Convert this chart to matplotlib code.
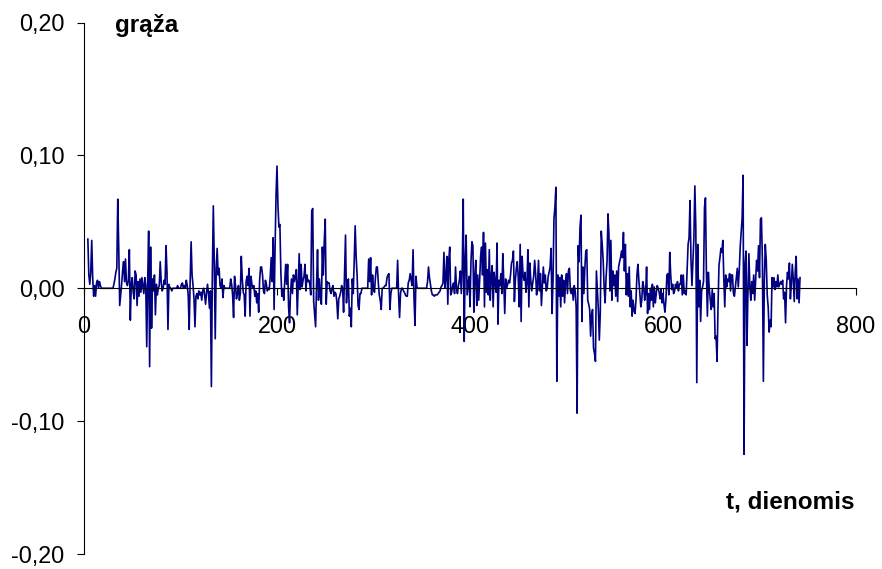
import numpy as np
import matplotlib.pyplot as plt
from matplotlib.ticker import FuncFormatter

plt.rcParams['font.family'] = ['Liberation Sans', 'DejaVu Sans']

# daily return (grąža) in thousandths
ret_a = [37, 10, 3, 12, 36, 8, -6, 2, -6, 4,
         6, 0, 5, 2, 0, 0, 0, 0, 0, 0,
         0, 0, 0, 0, 0, 0, 0, 3, 7,
         12, 15, 67, 30, -13, -5, 3, 13, 20, 5,
         22, 4, 2, 6, 29, -24, 3, 8, -3, -8,
         13, 10, -13, 5, -6, 7, -3, 8, 2, -4,
         8, 2, -44, 5, 43, -59, 31, -30, 7, -2,
         10, -20, 3, -5, 0, 2, 20, 5, -2, 0,
         6, 3, 32, 12, -31, 3, 0, 0, -2, 0,
         0, 0, 0, 0, 2, 0, 0, 0, 3, 4,
         0, 2, 0, 6, 2, -5, -31, 5, 35, 10,
         2, -8]

ret_b = [-29, -6, -4, -8, -2, -5, -3, -9, -2, 0,
         -5, -12, -3, 3, -4, -15, -2, -74, 10, 62,
         20, -38, 15, 30, 10, 15, 2, 0, 7, -7,
         2, 0, 0, 0, 0, 0, 0, 7, 3,
         -5, -22, 9, 2, -8, -4, 2, -9, -4, 24,
         7, -3, -5, -21, 5, 9, 2, 15, -21, 9,
         3, 0, 2, -6, -2, -11, -4, -18, 6, 16,
         16, 10, -2, -4, 6, 3, -2, 0, -1, 9,
         23, 5, 38, -16, 30, 70, 92, 62, 46, 48,
         12, -6, -1, -9, 4, 18, 3, 18, -14, -26,
         -3, 7, -4, 10, 5, 9, 14, -20, 3, 26,
         -1, 18, 1, 6, 9, 18, -2, 10, 5, 6,
         3, -5, 58, 60]

ret_c = [-10, -20, -29, 3, 29, -9, 7, -5, -12, 31,
         10, 36, 52, -12, 5, 4, 4, -2, -4, 0,
         2, -6, -3, -4, -10, -23, -8, -6, -3, 2,
         0, -18, 10, 40, -11, 2, 7, -21, -15, -29,
         7, -4, 20, 47, 24, 10, -13, -16, -4, -4,
         0, 0, 0, 0, 0, 0, 0, 22, 5, 23,
         -5, 10, 0, -3, 8, 16, 16, 4, -5, -9,
         -16, 0, 0, 1, 2, 2, 8, 10, 11, -16,
         -4, 0, 0, 0, 0, 0, 0, 21, -5,
         -22, -4, 0, 0, -2, -3, -5, -6, -6, 4,
         6, 11, 6, 2, 29, -8, -28, 9, 1, 0,
         0, 0, 0, 0, 0, 0, 0, 0, 0]

ret_d = [5, 16, 8, 3, -2, -5, -5, -6, -5, -5,
         -5, -4, -3, -2, 1, 2, 4, 27, 0, 8,
         24, -12, 21, 31, -5, -3, 2, 4, -4, 16,
         0, -4, 2, 6, 13, -4, 16, 67, -40, 21,
         40, -5, 2, 9, -14, 20, 35, 32, -18, 9,
         21, -13, 10, -9, 6, 24, 31, 10, 42, -14,
         34, -3, 14, -5, 29, -9, 9, 17, -14, 12,
         4, -3, 34, -27, 6, 2, 11, -4, 26, 5,
         -19, 7, 0, 3, 6, 4, 10, 19, 21, 28,
         -10, 6, 15, 20, 8, -14, 33, -25, 24, 10,
         6, 12, -3, 4, 29, -14, 19, 6, -2, 4,
         9, 21, 11, -5, 3, 21, -2, 11, -13, 2]

ret_e = [16, 4, 10, -2, 0, 9, 12, 16, 30, -19,
         5, 52, 61, 76, -70, 10, -6, 8, -14, 10,
         -6, 6, -11, 5, 11, -4, 13, 15, -2, -4,
         0, -9, 2, -2, -14, -94, 32, 20, 46, 55,
         -25, 16, -4, 15, 28, 29, -9, -12, -16, -36,
         -20, -16, -45, -49, -55, 13, -2, -16, -39, -19,
         43, 33, 21, 1, -11, 8, 20, 56, 40, -2,
         36, -9, 13, 2, 10, -6, 13, -10, 16, 20,
         23, 28, 23, 42, 13, 33, -5, 11, -6, 16,
         -14, -2, -21, -9, -17, -19, -9, 10, 18, 6,
         -4, -14, -9, 5, 1, -9, -4, 16, -19, -4,
         -16, 0, -9, 3, -14, 1, -11, -4, 2, 0]

ret_f = [-3, -8, -1, -11, -4, -12, -18, -9, 10, 11,
         -5, 27, 10, -1, 3, -4, -2, 3, 0, 5,
         -2, 3, 3, 10, -5, 10, -4, -2, -5, 13,
         33, 38, 66, 21, 2, 21, 38, 77, 46, -71,
         33, -14, 6, -25, -2, 1, 5, 61, 68, 11,
         -21, 12, -1, -9, -16, -1, -14, -4, -38, -36,
         -55, -14, 17, 23, 30, 27, 36, 8, -14, 10,
         1, 7, 5, 11, -2, 10, 10, -4, -6, 1,
         8, 15, 1, 13, 31, 42, 53, 85, -125, 18,
         28, -43, -4, 26, 1, -9, 5, -4, 10, -9,
         6, 21, 13, 32, 8, 52, 53, 21, -70, 6,
         33, 21, -5, -14, -33, -24, -29, 8, 1, 8,
         -1, 5, 1, 10, 1, 3, 5, 3, 6, -8,
         -3, -26, 2, 12, 7, 19, -8, 3, 18, 7,
         -10, 12, 24, -8, 7, -11, 8]

first_day = 4
y_ticks = [-0.2, -0.1, 0.0, 0.1, 0.2]
x_ticks = [0, 200, 400, 600, 800]

returns = np.array(ret_a + ret_b + ret_c + ret_d + ret_e + ret_f) / 1000.0
days = np.arange(first_day, first_day + len(returns))

fig = plt.figure(figsize=(8.82, 5.69), dpi=100)
ax = fig.add_axes([84 / 882, 1 - 554 / 569, 772 / 882, 531.5 / 569])

ax.plot(days, returns, color='#000080', lw=1.2)

ax.set_xlim(0, 800)
ax.set_ylim(-0.2, 0.2)
ax.spines['top'].set_visible(False)
ax.spines['right'].set_visible(False)
ax.spines['bottom'].set_position(('data', 0))
for sp in ('left', 'bottom'):
    ax.spines[sp].set_linewidth(0.8)
    ax.spines[sp].set_color('black')

ax.set_xticks(x_ticks)
ax.set_yticks(y_ticks)
ax.yaxis.set_major_formatter(FuncFormatter(lambda v, p: f"{v:.2f}".replace('.', ',')))
ax.tick_params(axis='y', direction='out', length=5, width=0.8, pad=9, labelsize=16.8)
ax.tick_params(axis='x', direction='out', length=5, width=0.8, pad=14, labelsize=16.8)

fig.text(115 / 882, 1 - 32 / 569, 'grąža', fontsize=17.5, fontweight='bold',
         ha='left', va='baseline')
fig.text(854 / 882, 1 - 509 / 569, 't, dienomis', fontsize=17.5, fontweight='bold',
         ha='right', va='baseline')

fig.savefig('out.png', dpi=100)
